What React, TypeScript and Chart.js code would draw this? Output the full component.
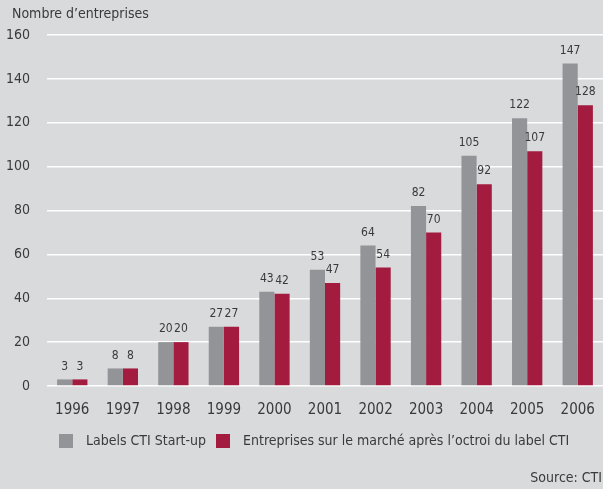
import React, { useEffect, useRef } from "react";
import { Chart, registerables } from "chart.js";

Chart.register(...registerables);

const years = ["1996", "1997", "1998", "1999", "2000", "2001", "2002", "2003", "2004", "2005", "2006"];
const labelsCTI = [3, 8, 20, 27, 43, 53, 64, 82, 105, 122, 147];
const entreprisesMarche = [3, 8, 20, 27, 42, 47, 54, 70, 92, 107, 128];
const yTicks = [0, 20, 40, 60, 80, 100, 120, 140, 160];
const axisTitle = "Nombre d’entreprises";
const sourceText = "Source: CTI";
const seriesNames = ["Labels CTI Start-up", "Entreprises sur le marché après l’octroi du label CTI"];
const seriesColors = ["#939498", "#a31c3f"];

const FONT = "'Liberation Sans Narrow', 'DejaVu Sans Condensed', 'Roboto', sans-serif";
const TEXT = "#3a3a3c";
const BG = "#d9dadc";

const valueLabels = {
  id: "valueLabels",
  afterDatasetsDraw(chart: any) {
    const ctx = chart.ctx;
    ctx.save();
    ctx.font = `12px ${FONT}`;
    ctx.fillStyle = TEXT;
    ctx.textAlign = "center";
    ctx.textBaseline = "bottom";
    chart.data.datasets.forEach((ds: any, i: number) => {
      const meta = chart.getDatasetMeta(i);
      meta.data.forEach((bar: any, j: number) => {
        ctx.fillText(String(ds.data[j]), bar.x, bar.y - 7);
      });
    });
    ctx.restore();
  },
};

const decor = {
  id: "decor",
  beforeDraw(chart: any) {
    const ctx = chart.ctx;
    ctx.save();
    ctx.fillStyle = BG;
    ctx.fillRect(0, 0, chart.width, chart.height);
    ctx.restore();
  },
  afterDraw(chart: any) {
    const ctx = chart.ctx;
    ctx.save();
    ctx.font = `14px ${FONT}`;
    ctx.fillStyle = TEXT;
    ctx.textBaseline = "middle";
    ctx.textAlign = "left";
    ctx.fillText(axisTitle, 12, 14);
    // legend
    const ly = 441;
    const starts = [59, 216];
    chart.data.datasets.forEach((ds: any, i: number) => {
      const x = starts[i];
      ctx.fillStyle = ds.backgroundColor;
      ctx.fillRect(x, ly - 7, 14, 14);
      ctx.fillStyle = TEXT;
      ctx.fillText(ds.label, x + 27, ly);
    });
    ctx.textAlign = "right";
    ctx.fillText(sourceText, 602, 478);
    ctx.restore();
  },
};

export default function App() {
  const ref = useRef<HTMLCanvasElement>(null);
  useEffect(() => {
    document.body.style.margin = "0";
    const chart = new Chart(ref.current!, {
      type: "bar",
      data: {
        labels: years,
        datasets: [
          {
            label: seriesNames[0],
            data: labelsCTI,
            backgroundColor: seriesColors[0],
            categoryPercentage: 0.6,
            barPercentage: 1,
          },
          {
            label: seriesNames[1],
            data: entreprisesMarche,
            backgroundColor: seriesColors[1],
            categoryPercentage: 0.6,
            barPercentage: 1,
          },
        ],
      },
      options: {
        animation: false,
        responsive: false,
        maintainAspectRatio: false,
        layout: { padding: { left: 0, right: 0, top: 35, bottom: 63 } },
        plugins: {
          title: { display: false },
          legend: { display: false },
          tooltip: { enabled: false },
        },
        scales: {
          x: {
            grid: { display: false },
            border: { display: false },
            ticks: { color: TEXT, font: { family: FONT, size: 15 }, padding: 7 },
          },
          y: {
            min: 0,
            max: 160,
            afterBuildTicks(scale: any) {
              scale.ticks = yTicks.map((v) => ({ value: v }));
            },
            afterFit(scale: any) {
              scale.width = 47;
            },
            grid: { color: "#ffffff", lineWidth: 1.5, drawTicks: false },
            border: { display: false },
            ticks: { color: TEXT, font: { family: FONT, size: 14 }, padding: 17 },
          },
        },
      },
      plugins: [decor, valueLabels],
    });
    return () => chart.destroy();
  }, []);
  return (
    <div style={{ width: 603, height: 489, background: BG }}>
      <canvas ref={ref} width={603} height={489} style={{ display: "block" }} />
    </div>
  );
}
